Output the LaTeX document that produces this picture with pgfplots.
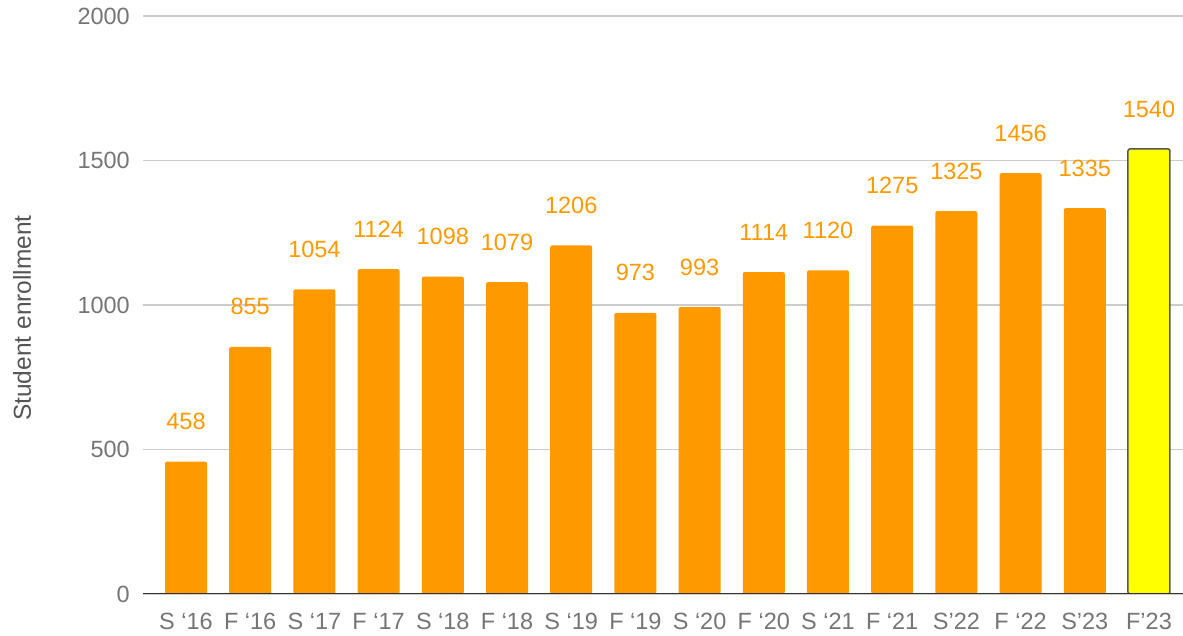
\documentclass[border=0pt]{standalone}
\usepackage{pgfplots}
\pgfplotsset{compat=1.18}
\usepackage{fontspec}
\setmainfont{Liberation Sans}
\definecolor{barorange}{HTML}{FF9900}
\definecolor{baryellow}{HTML}{FFFF00}
\definecolor{tickgray}{HTML}{757575}
\definecolor{labgray}{HTML}{555555}
\definecolor{gridgray}{HTML}{CCCCCC}
\definecolor{basegray}{HTML}{333333}
\begin{document}
\begin{tikzpicture}[x=1bp,y=1bp]
\path[use as bounding box] (0,0) rectangle (1183,636);
\begin{axis}[
  at={(143bp,42bp)}, anchor=south west,
  scale only axis, width=1040bp, height=578bp,
  xmin=-0.67, xmax=15.53, ymin=0, ymax=2000,
  axis line style={draw=none},
  ytick={0,500,1000,1500,2000},
  xtick={0,...,15},
  xticklabels={S ‘16,F ‘16,S ‘17,F ‘17,S ‘18,F ‘18,S ‘19,F ‘19,S ‘20,F ‘20,S ‘21,F ‘21,S’22,F ‘22,S’23,F’23},
  major tick length=0pt,
  ymajorgrids, grid style={draw=gridgray, line width=1.2bp},
  tick label style={font=\fontsize{23.5bp}{27bp}\selectfont, text=tickgray},
  /pgf/number format/assume math mode=true,
  /pgf/number format/1000 sep={},
  yticklabel style={anchor=east, inner sep=0pt, xshift=-13bp, /pgf/number format/1000 sep={}},
  xticklabel style={anchor=north, inner sep=0pt, yshift=-19bp},
  ylabel={Student enrollment},
  ylabel style={at={(axis description cs:-0.1163,0.4775)}, anchor=center, rotate=0, font=\fontsize{24.5bp}{28bp}\selectfont, text=labgray},
  ybar, bar width=42bp,
  nodes near coords,
  nodes near coords style={anchor=center, yshift=40bp, font=\fontsize{23.5bp}{27bp}\selectfont, text=barorange, /pgf/number format/assume math mode=true, /pgf/number format/1000 sep={}},
]
\addplot[fill=barorange, draw=none, bar shift=0pt, rounded corners=2bp] coordinates {
(0,458) (1,855) (2,1054) (3,1124) (4,1098) (5,1079) (6,1206) (7,973)
(8,993) (9,1114) (10,1120) (11,1275) (12,1325) (13,1456) (14,1335)
};
\addplot[fill=baryellow, draw=labgray, line width=1.5bp, bar shift=0pt, rounded corners=2bp] coordinates {
(15,1540)
};
\draw[basegray, line width=1.5bp] (rel axis cs:0,0) -- (rel axis cs:1,0);
\end{axis}
\end{tikzpicture}
\end{document}
